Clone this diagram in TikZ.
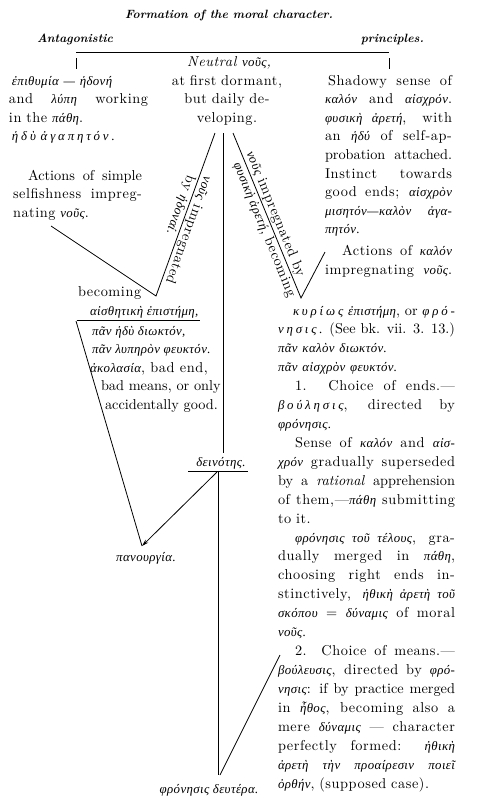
\documentclass[tikz,border=0pt]{standalone}
\usepackage{fontspec}
\setmainfont{lmroman10-regular.otf}[BoldFont=lmroman10-bold.otf, ItalicFont=lmroman10-italic.otf, BoldItalicFont=lmroman10-bolditalic.otf, LetterSpace=4]
\newfontfamily\grf{Liberation Serif}[Scale=0.9, LetterSpace=3]
\usetikzlibrary{arrows.meta}
\newlength\cw
\newcommand\g[1]{{\grf\itshape #1}}
\newcommand\gs[1]{{\grf\itshape\addfontfeature{LetterSpace=22}#1}}
\newcommand\nols{\addfontfeature{LetterSpace=0}}
\newcommand\Jbox[2]{%
  \setbox0=\hbox{\spaceskip=0pt\xspaceskip=0pt #2}%
  \ifdim\wd0>#1\relax
    \makebox[#1][s]{\spaceskip=0pt\xspaceskip=0pt\nols #2}%
  \else
    \makebox[#1][s]{\spaceskip=0pt\xspaceskip=0pt #2}%
  \fi}
\newcommand\J[1]{\Jbox{\cw}{#1}}
\newcommand\Ji[2]{\hspace*{#1}\Jbox{\dimexpr\cw-#1\relax}{#2}}
\tikzset{
  txt/.style={inner sep=0pt, outer sep=0pt, font=\fontsize{14.3}{18.6}\selectfont},
  blk/.style={txt, anchor=base west, align=left},
  blkb/.style={blk, font=\fontsize{14.3}{18.92}\selectfont},
  head/.style={inner sep=0pt, font=\fontsize{12}{14}\selectfont\bfseries\itshape\nols},
  ln/.style={line width=0.8pt, black},
  lbl/.style={inner sep=1.5pt, font=\fontsize{14.3}{16}\selectfont, sloped, allow upside down},
}
\begin{document}
\begin{tikzpicture}[x=1pt, y=-1pt]
\useasboundingbox (0,0) rectangle (477,811);
% headings
\node[head, anchor=base] (title) at (229,18) {Formation of the moral character.};
\node[head, anchor=base west] (ant) at (37,42) {Antagonistic};
\node[head, anchor=base east] (pri) at (424,42) {principles.};
\coordinate (hl) at (76,52); \coordinate (hr) at (389,52);
\coordinate (tl1) at (76,58); \coordinate (tl2) at (76,69);
\coordinate (tr1) at (389,58); \coordinate (tr2) at (389,69);
\draw[ln] (hl) -- (hr);
\draw[ln] (tl1) -- (tl2);
\draw[ln] (tr1) -- (tr2);
% centre
\node[txt, anchor=base, font=\fontsize{14.3}{18.6}\selectfont\itshape] (neu) at (229,66) {Neutral \g{νοῦς},};
\node[blk, anchor=base, text width=130pt, align=center] (cen) at (227,85) {at first dormant,\\ but daily de-\\ veloping.};
% left top
\node[blk, text width=139pt] (ltxt) at (9,85) {\setlength\cw{139pt}\hspace*{3pt}\g{ἐπιθυμία — ἡδονή}\\ \J{and \g{λύπη} working}\\ in the \g{πάθη}.\\ \hspace*{3pt}\gs{ἡδὺ ἀγαπητόν.}};
\node[blk, text width=129pt] (lact) at (13,180) {\setlength\cw{129pt}\Ji{15pt}{Actions of simple}\\ \J{selfishness impreg-}\\ nating \g{νοῦς}.};
% right top
\node[blk, text width=127pt] (rtxt) at (325,85) {\setlength\cw{127pt}\Ji{3pt}{Shadowy sense of}\\ \J{\g{καλόν} and \g{αἰσχρόν}.}\\ \J{\g{φυσικὴ ἀρετή}, with}\\ \J{an \g{ἡδύ} of self-ap-}\\ \J{probation attached.}\\ \J{Instinct towards}\\ \J{good ends; \g{αἰσχρὸν}}\\ \J{\g{μισητόν—καλὸν ἀγα-}}\\ \g{πητόν.}\\[3pt] \Ji{17pt}{Actions of \g{καλόν}}\\ \J{impregnating \g{νοῦς}.}};
% coordinates of the V's
\coordinate (ltop) at (215,133);
\coordinate (lvert) at (156,296);
\coordinate (lactend) at (51,226);
\coordinate (rtop) at (233,133);
\coordinate (rvert) at (301,298);
\coordinate (ractend) at (325,252);
\coordinate (ctop) at (223,133);
\coordinate (cbot) at (223,453);
\draw[ln] (lactend) -- (lvert) -- (ltop);
\draw[ln] (ractend) -- (rvert) -- (rtop);
\draw[ln] (ctop) -- (cbot);
\path (ltop) -- (lvert)
  node[lbl, pos=0.58, above] (lab1) {\g{νοῦς} impregnated}
  node[lbl, pos=0.46, below] (lab2) {by \g{ἡδοναί}.};
\path (rtop) -- (rvert)
  node[lbl, pos=0.51, above] (lab3) {\g{νοῦς} impregnated by}
  node[lbl, pos=0.57, below] (lab4) {\g{φυσικὴ ἀρετή}, becoming};
% left lower
\node[txt, anchor=base west] (bec) at (78,296) {becoming};
\node[txt, anchor=base west] (ais) at (90,315) {\g{αἰσθητικὴ ἐπιστήμη,}};
\coordinate (ul1) at (77,320); \coordinate (ul2) at (200,320);
\draw[ln] (ul1) -- (ul2);
\node[txt, anchor=base west] (p1) at (92,335) {\g{πᾶν ἡδὺ διωκτόν,}};
\node[txt, anchor=base west] (p2) at (92,353.6) {\g{πᾶν λυπηρὸν φευκτόν.}};
\node[txt, anchor=base west] (p3) at (90,372.2) {\g{ἀκολασία}, bad end,};
\node[txt, anchor=base west] (p4) at (101,390.8) {\nols bad means, or only};
\node[txt, anchor=base west] (p5) at (105,409.4) {\nols accidentally good.};
% deinotes
\node[txt, anchor=base] (dein) at (221,466) {\g{δεινότης.}};
\coordinate (du1) at (188,471); \coordinate (du2) at (248,471);
\draw[ln] (du1) -- (du2);
\coordinate (dstart) at (217,472);
\coordinate (vstart) at (218,471);
\coordinate (vend) at (218,775);
\coordinate (pvert) at (142,546);
\coordinate (ldiag) at (76,321);
\draw[ln] (ldiag) -- (pvert);
\draw[ln, -{Stealth[length=7pt,width=4pt]}] (dstart) -- (pvert);
\node[txt, anchor=base] (pan) at (146,561) {\g{πανουργία.}};
\draw[ln] (vstart) -- (vend);
\coordinate (sl) at (280,655);
\coordinate (sle) at (220,775);
\draw[ln] (sl) -- (sle);
\node[txt, anchor=base] (phr) at (209,793) {\g{φρόνησις δευτέρα.}};
% right lower
\node[blkb, text width=177pt] (rlow) at (278,315) {\setlength\cw{177pt}\Ji{15pt}{\gs{κυρίως} \g{ἐπιστήμη}, or \gs{φρό-}}\\
\J{\gs{νησις.} (See bk. vii. 3. 13.)}\\
\g{πᾶν καλὸν διωκτόν.}\\
\g{πᾶν αἰσχρὸν φευκτόν.}\\
\Ji{17pt}{1. Choice of ends.—}\\
\J{\gs{βούλησις}, directed by}\\
\g{φρόνησις.}\\
\Ji{17pt}{Sense of \g{καλόν} and \g{αἰσ-}}\\
\J{\g{χρόν} gradually superseded}\\
\J{by a \textit{rational} apprehension}\\
\J{of them,—\g{πάθη} submitting}\\
to it.\\
\Ji{17pt}{\g{φρόνησις τοῦ τέλους}, gra-}\\
\J{dually merged in \g{πάθη},}\\
\J{choosing right ends in-}\\
\J{stinctively, \g{ἠθικὴ ἀρετὴ τοῦ}}\\
\J{\g{σκόπου} = \g{δύναμις} of moral}\\
\g{νοῦς.}\\
\Ji{17pt}{2. Choice of means.—}\\
\J{\g{βούλευσις}, directed by \g{φρό-}}\\
\J{\g{νησις}: if by practice merged}\\
\J{in \g{ἦθος}, becoming also a}\\
\J{mere \g{δύναμις} — character}\\
\J{perfectly formed: \g{ἠθικὴ}}\\
\J{\g{ἀρετὴ τὴν προαίρεσιν ποιεῖ}}\\
\g{ὀρθήν}, (supposed case).};
\end{tikzpicture}
\end{document}
